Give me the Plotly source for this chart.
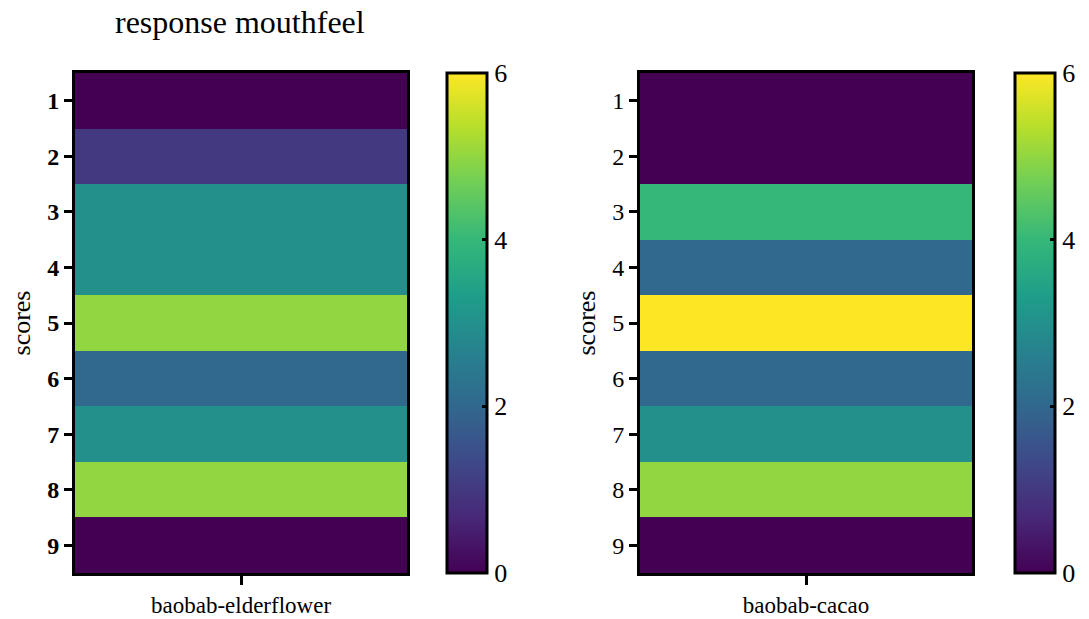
import plotly.graph_objects as go

scores = [1, 2, 3, 4, 5, 6, 7, 8, 9]
left_label = "baobab-elderflower"
right_label = "baobab-cacao"
left_values = [0, 1, 3, 3, 5, 2, 3, 5, 0]
right_values = [0, 0, 4, 2, 6, 2, 3, 5, 0]
cbar_ticks = [0, 2, 4, 6]

W, H = 1089, 619
FONT = "Liberation Serif"

def px(v):
    return v / W

def py(v):
    return 1 - v / H

fig = go.Figure()

y_bot, y_top = py(573), py(73)

def cbar(x0):
    return dict(x=px(x0), xanchor="left", y=y_bot, yanchor="bottom",
                len=(y_top - y_bot), lenmode="fraction", thickness=40,
                thicknessmode="pixels", outlinewidth=3, outlinecolor="black",
                tickvals=cbar_ticks, ticks="inside", ticklen=6, tickwidth=3,
                tickcolor="black", xpad=0, ypad=0,
                tickfont=dict(family=FONT, size=26, color="black"))

fig.add_trace(go.Heatmap(
    z=[[v] for v in left_values], x=[left_label], y=scores,
    colorscale="Viridis", zmin=0, zmax=6, xaxis="x", yaxis="y",
    colorbar=cbar(447),
))
fig.add_trace(go.Heatmap(
    z=[[v] for v in right_values], x=[right_label], y=scores,
    colorscale="Viridis", zmin=0, zmax=6, xaxis="x2", yaxis="y2",
    colorbar=cbar(1015),
))

axis_common = dict(showline=True, linewidth=3, linecolor="black", mirror=True,
                   showgrid=False, zeroline=False, ticks="outside",
                   tickwidth=3, tickcolor="black", automargin=False)

fig.update_layout(
    width=W, height=H,
    margin=dict(l=0, r=0, t=0, b=0, autoexpand=False),
    paper_bgcolor="white", plot_bgcolor="white",
    font=dict(family=FONT, color="black"),
    title=dict(text="response mouthfeel", x=px(115), xanchor="left",
               y=py(22), yanchor="middle", xref="paper", yref="paper",
               font=dict(family=FONT, size=32, color="black")),
    xaxis=dict(domain=[px(75), px(407)], anchor="y", ticklen=9,
               tickfont=dict(family=FONT, size=23), **axis_common),
    yaxis=dict(domain=[y_bot, y_top], anchor="x", autorange="reversed",
               tickvals=scores, ticktext=[f"<b>{s}</b>" for s in scores],
               ticklen=8, title=dict(text="scores", font=dict(family=FONT, size=26), standoff=10),
               tickfont=dict(family=FONT, size=24), **axis_common),
    xaxis2=dict(domain=[px(640), px(972)], anchor="y2", ticklen=9,
                tickfont=dict(family=FONT, size=23), **axis_common),
    yaxis2=dict(domain=[y_bot, y_top], anchor="x2", autorange="reversed",
                tickvals=scores, ticklen=8,
                title=dict(text="scores", font=dict(family=FONT, size=26), standoff=10),
                tickfont=dict(family=FONT, size=24), **axis_common),
)

fig.write_html("out.html")
